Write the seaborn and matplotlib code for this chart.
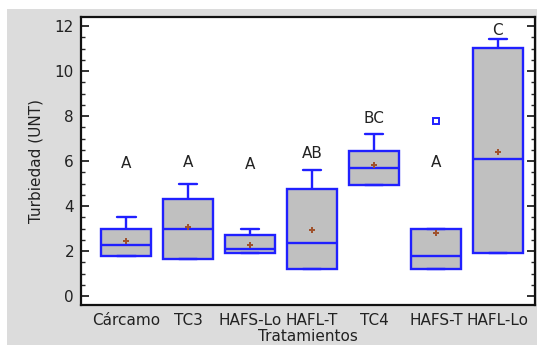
import numpy as np
import pandas as pd
import matplotlib
matplotlib.use("Agg")
import matplotlib.pyplot as plt
import matplotlib.patches as mpatches
from matplotlib.ticker import MultipleLocator
import seaborn as sns

treatments = ["Cárcamo", "TC3", "HAFS-Lo", "HAFL-T", "TC4", "HAFS-T", "HAFL-Lo"]
tick_labels = ["Cárcamo", "TC3", "HAFS-Lo", "HAFL-T", "TC4", "HAFS-T", "HAFL-Lo"]
carcamo = [1.78, 1.78, 2.27, 2.96, 3.50]
tc3 = [1.63, 1.63, 2.98, 4.30, 4.98]
hafs_lo = [1.90, 1.90, 2.08, 2.70, 2.96]
hafl_t = [1.20, 1.20, 2.37, 4.77, 5.61]
tc4 = [4.95, 4.95, 5.68, 6.46, 7.19]
hafs_t = [1.20, 1.20, 1.20, 1.50, 1.78, 2.40, 2.96, 3.00, 7.80]
hafl_lo = [1.90, 1.90, 6.10, 11.02, 11.42]
groups = [carcamo, tc3, hafs_lo, hafl_t, tc4, hafs_t, hafl_lo]

means = [2.43, 3.07, 2.27, 2.93, 5.81, 2.81, 6.39]
letters = ["A", "A", "A", "AB", "BC", "A", "C"]
letter_y = [5.9, 5.95, 5.85, 6.35, 7.9, 5.95, 11.8]

df = pd.DataFrame({
    "Tratamiento": np.repeat(treatments, [len(g) for g in groups]),
    "Turbiedad": np.concatenate(groups),
})

BLUE = "#2020ff"
BOX_GRAY = "#c0c0c0"
BG = "#dcdcdc"
TXT = "#222222"
FS = 11

sns.set_style("white")
plt.rcParams["font.family"] = ["DejaVu Sans"]

fig = plt.figure(figsize=(5.37, 3.45), dpi=100)
fig.patch.set_facecolor("white")
fig.patches.append(mpatches.Rectangle((7 / 537, 0), 1, 1 - 9 / 345,
                                      transform=fig.transFigure,
                                      facecolor=BG, edgecolor="none", zorder=-10))
ax = fig.add_axes([81 / 537, 1 - 305 / 345, (535 - 81) / 537, (305 - 17) / 345])
ax.set_facecolor("white")

sns.boxplot(
    data=df, x="Tratamiento", y="Turbiedad", order=treatments, ax=ax,
    color=BOX_GRAY, saturation=1, linecolor=BLUE, linewidth=1.7, width=0.8,
    whis=1.5, capwidths=0.3,
    flierprops=dict(marker="s", markersize=4, markerfacecolor="none",
                    markeredgecolor=BLUE, markeredgewidth=1.4),
)

# group means
ax.scatter(np.arange(len(treatments)), means, marker="P", s=18,
           color="#a0522d", zorder=5, linewidths=0)

for i, (lab, yy) in enumerate(zip(letters, letter_y)):
    ax.text(i, yy, lab, ha="center", va="center", fontsize=FS, color=TXT)

ax.set_xlim(-0.73, 6.6)
ax.set_ylim(-0.4, 12.4)
ax.yaxis.set_major_locator(MultipleLocator(2))
ax.yaxis.set_minor_locator(MultipleLocator(0.5))
ax.tick_params(axis="y", which="major", direction="in", length=6, width=1.3,
               left=True, right=True, labelsize=FS, pad=5, colors=TXT)
ax.tick_params(axis="y", which="minor", direction="in", length=3, width=1,
               left=True, right=True)
ax.tick_params(axis="x", length=0, labelsize=FS, pad=6, colors=TXT)
ax.set_xticks(np.arange(len(treatments)))
ax.set_xticklabels(tick_labels)
for s in ax.spines.values():
    s.set_visible(True)
    s.set_color("#111111")
    s.set_linewidth(1.6)

ax.set_xlabel("Tratamientos", fontsize=FS, color=TXT, labelpad=0.5)
ax.set_ylabel("Turbiedad (UNT)", fontsize=FS, color=TXT, labelpad=8)

fig.savefig("out.png", dpi=100)
